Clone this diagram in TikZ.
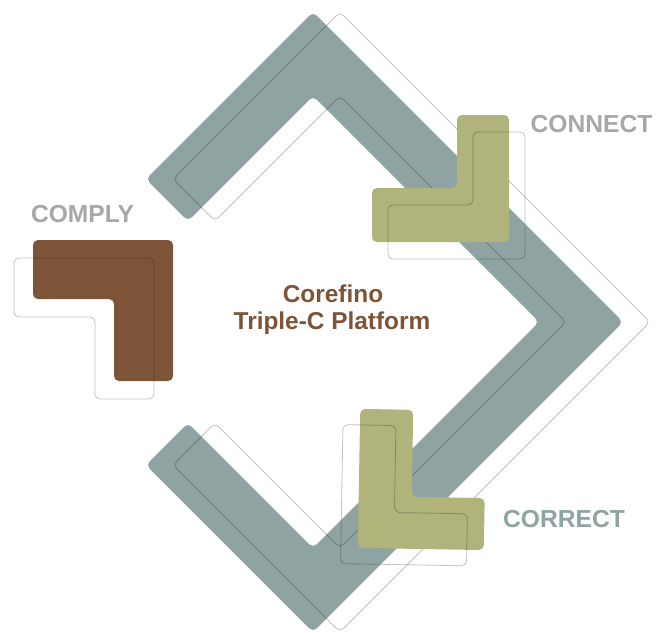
\documentclass[tikz,border=0pt]{standalone}
\usepackage{fontspec}
\setmainfont{Liberation Sans}

\definecolor{slate}{RGB}{143,164,162}
\definecolor{olive}{RGB}{176,180,122}
\definecolor{bark}{RGB}{125,84,56}
\definecolor{tagGrey}{RGB}{167,167,171}

\begin{document}
\begin{tikzpicture}[x=1pt,y=-1pt,
  bandfill/.style={fill=slate, rounded corners=5pt},
  blockfill/.style={rounded corners=5pt},
  ghost/.style={draw=black, draw opacity=0.24, line width=0.8pt, rounded corners=5pt},
  tag/.style={font=\fontsize{24.6}{27}\selectfont\bfseries, anchor=base, inner sep=0pt},
  title/.style={font=\fontsize{24.4}{27}\selectfont\bfseries, anchor=base, inner sep=0pt, text=bark}]

\useasboundingbox (0,0) rectangle (666,632);

% open diamond band (top, right and bottom sides)
\path[bandfill] (146,179) -- (313,12) -- (623,322) -- (313,632) -- (146,465)
  -- (188,423) -- (313,548) -- (539,322) -- (313,96) -- (188,221) -- cycle;
\begin{scope}[shift={(27,0)}]
  \draw[ghost] (146,179) -- (313,12) -- (623,322) -- (313,632) -- (146,465)
    -- (188,423) -- (313,548) -- (539,322) -- (313,96) -- (188,221) -- cycle;
\end{scope}

% CONNECT block
\fill[olive, blockfill] (372,188) -- (457,188) -- (457,115) -- (509,115)
  -- (509,242) -- (372,242) -- cycle;
\draw[ghost] (388,205) -- (473,205) -- (473,132) -- (525,132)
  -- (525,259) -- (388,259) -- cycle;

% CORRECT block
\begin{scope}[rotate around={-1:(422,480)}]
  \fill[olive, blockfill] (359,410) -- (412,410) -- (412,497) -- (485,497)
    -- (485,549) -- (359,549) -- cycle;
  \draw[ghost] (342,426) -- (395,426) -- (395,513) -- (468,513)
    -- (468,565) -- (342,565) -- cycle;
\end{scope}

% COMPLY block
\fill[bark, blockfill] (33,240) -- (173,240) -- (173,381) -- (114,381)
  -- (114,299) -- (33,299) -- cycle;
\draw[ghost] (14,258) -- (154,258) -- (154,399) -- (95,399)
  -- (95,317) -- (14,317) -- cycle;

% labels
\node[tag, text=tagGrey] (comply) at (82.5,222) {COMPLY};
\node[tag, text=tagGrey] (connect) at (591.5,132) {CONNECT};
\node[tag, text=slate] (correct) at (564,527) {CORRECT};

\node[title] (brand) at (333,302) {Corefino};
\node[title] (platform) at (332,329) {Triple-C Platform};
\end{tikzpicture}
\end{document}
